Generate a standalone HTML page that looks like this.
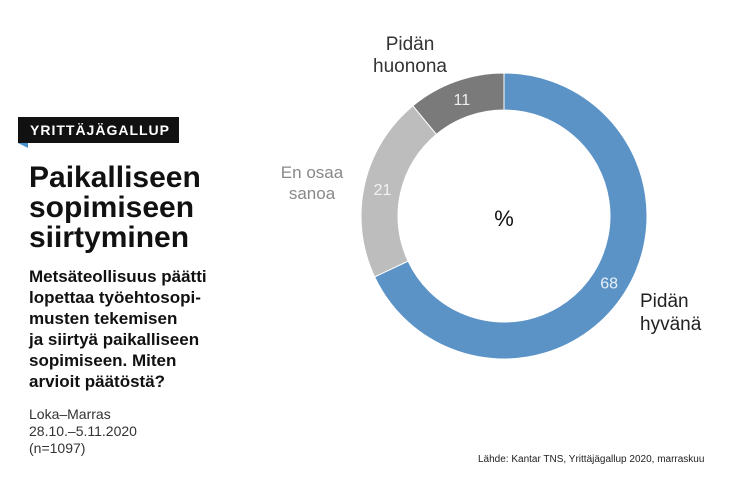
<!DOCTYPE html>
<html><head><meta charset="utf-8">
<style>
body{margin:0;width:740px;height:486px;background:#fff;font-family:"Liberation Sans",sans-serif;position:relative;overflow:hidden}
.a{position:absolute}
</style></head><body>
<div class="a" style="left:18px;top:117px;width:161px;height:26px;background:#111;color:#fff;font-weight:bold;font-size:14px;letter-spacing:1px;line-height:26px;padding-left:12px;box-sizing:border-box">YRITTÄJÄGALLUP</div>
<div class="a" style="left:18px;top:143px;width:0;height:0;border-top:5px solid #4a90c8;border-left:10px solid transparent"></div>
<div class="a" style="left:29px;top:163px;font-weight:bold;font-size:30px;line-height:30px;color:#111">Paikalliseen<br>sopimiseen<br>siirtyminen</div>
<div class="a" style="left:29px;top:266px;font-weight:bold;font-size:17px;line-height:21px;color:#111">Metsäteollisuus päätti<br>lopettaa työehtosopi-<br>musten tekemisen<br>ja siirtyä paikalliseen<br>sopimiseen. Miten<br>arvioit päätöstä?</div>
<div class="a" style="left:29px;top:406px;font-size:14px;line-height:17px;color:#333">Loka–Marras<br>28.10.–5.11.2020<br>(n=1097)</div>
<div class="a" style="left:478px;top:454px;font-size:10px;color:#222">Lähde: Kantar TNS, Yrittäjägallup 2020, marraskuu</div>
<svg class="a" style="left:0;top:0" width="740" height="486">
<g id="g"></g>
<text x="504" y="226" font-size="22" text-anchor="middle" fill="#111">%</text>
<text x="410" y="50" font-size="19" text-anchor="middle" fill="#333"><tspan x="410">Pidän</tspan><tspan x="410" dy="22">huonona</tspan></text>
<text x="312" y="178" font-size="17" text-anchor="middle" fill="#888"><tspan x="312">En osaa</tspan><tspan x="312" dy="21">sanoa</tspan></text>
<text x="640" y="307" font-size="19" fill="#222"><tspan x="640">Pidän</tspan><tspan x="640" dy="23">hyvänä</tspan></text>
</svg>
<script>
const categories=["Pidän hyvänä","En osaa sanoa","Pidän huonona"];
const values=[68,21,11];
const colors=["#5b93c6","#bdbdbd","#7a7a7a"];
const labelColors=["#e8f0f8","#f2f2f2","#eeeeee"];
const cx=504,cy=216,R=143,r=106;
const g=document.getElementById('g');
const total=values.reduce((a,b)=>a+b,0);
let acc=0;
function pt(a,rad){return [cx+rad*Math.sin(a),cy-rad*Math.cos(a)];}
values.forEach((v,i)=>{
 const a0=acc/total*2*Math.PI;acc+=v;const a1=acc/total*2*Math.PI;
 const large=(a1-a0)>Math.PI?1:0;
 const p1=pt(a0,R),p2=pt(a1,R),p3=pt(a1,r),p4=pt(a0,r);
 const p=document.createElementNS('http://www.w3.org/2000/svg','path');
 p.setAttribute('d',`M${p1}A${R},${R} 0 ${large} 1 ${p2}L${p3}A${r},${r} 0 ${large} 0 ${p4}Z`);
 p.setAttribute('fill',colors[i]);p.setAttribute('stroke','#fff');p.setAttribute('stroke-width','1');
 
 
 g.appendChild(p);
 const am=(a0+a1)/2;let lp=pt(am,(R+r)/2);
 if(i===0) lp=pt(2*Math.PI*0.34,(R+r)/2);
 const t=document.createElementNS('http://www.w3.org/2000/svg','text');
 t.setAttribute('x',lp[0]);t.setAttribute('y',lp[1]+6);t.setAttribute('text-anchor','middle');
 t.setAttribute('font-size','16');t.setAttribute('fill',labelColors[i]);
 t.textContent=values[i];
 
 
 g.appendChild(t);
});
</script>
</body></html>
